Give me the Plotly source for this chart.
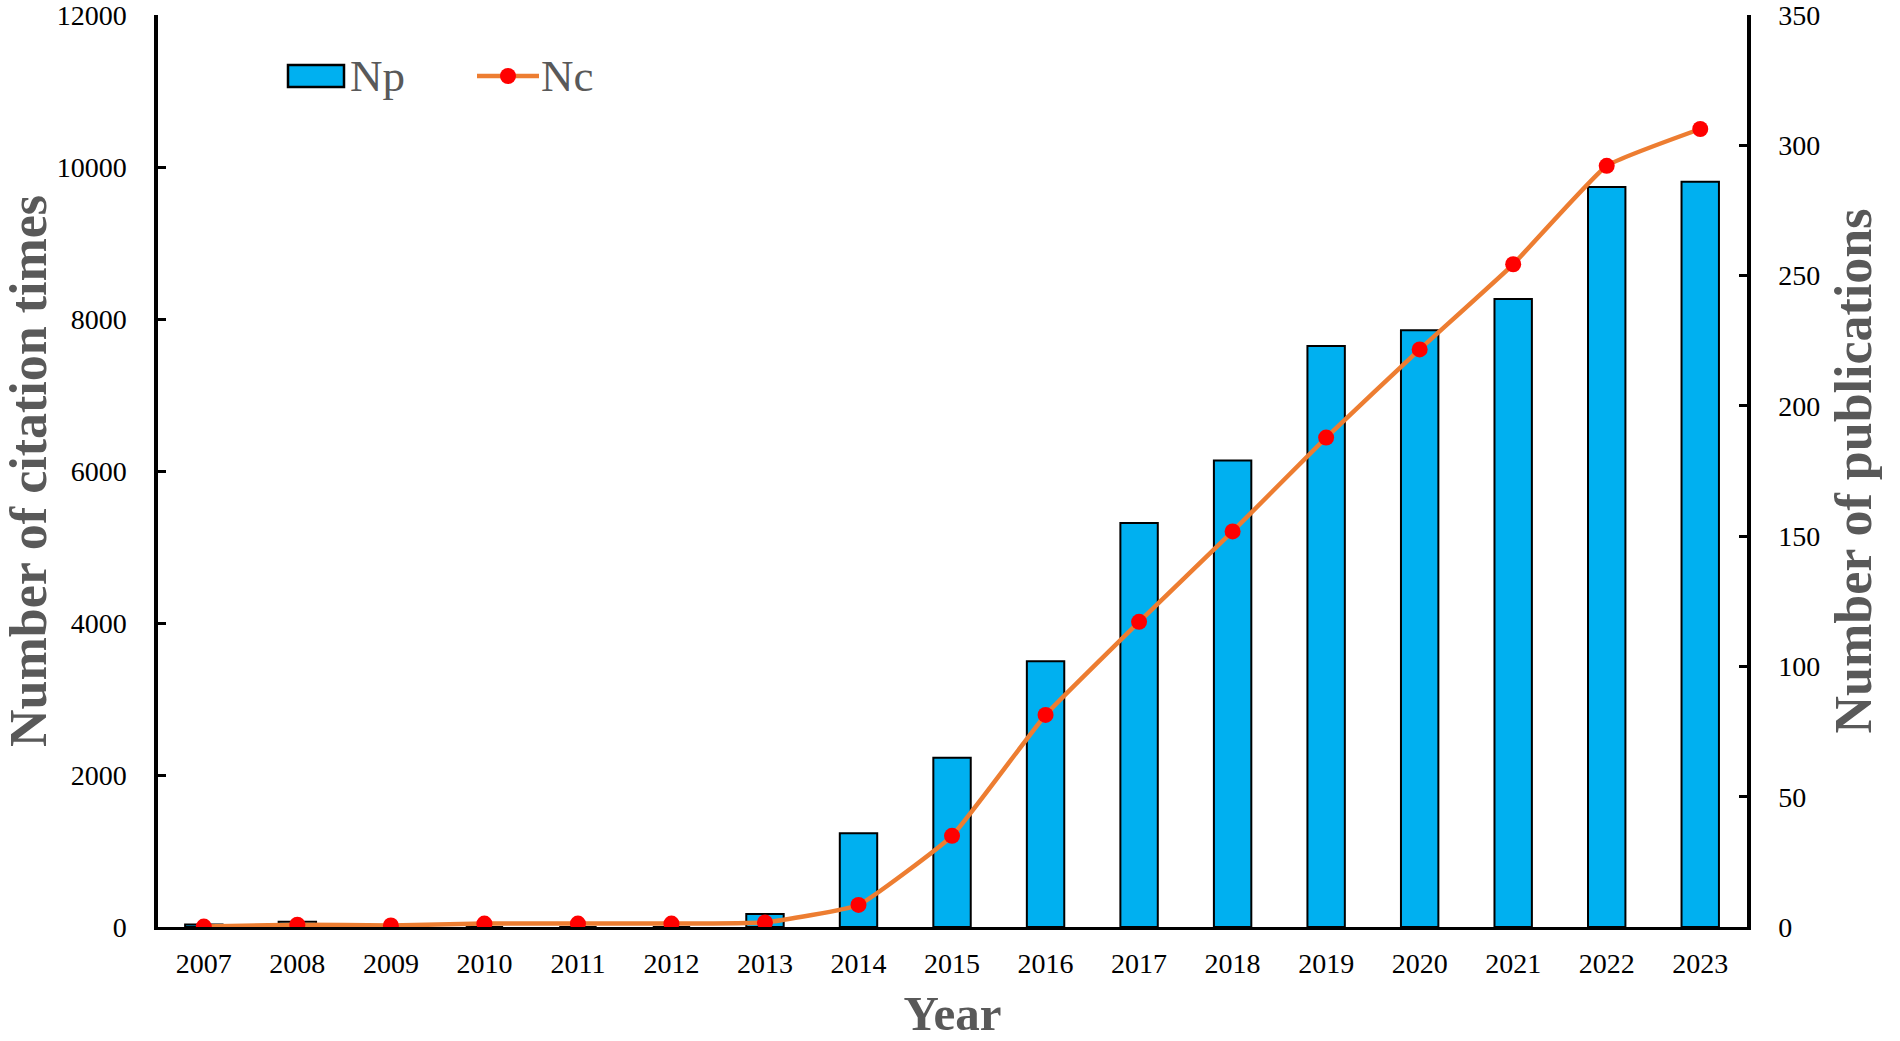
import plotly.graph_objects as go

years = ["2007", "2008", "2009", "2010", "2011", "2012", "2013", "2014", "2015",
         "2016", "2017", "2018", "2019", "2020", "2021", "2022", "2023"]
np_publications = [1, 2, 0, 0, 0, 0, 5, 36, 65, 102, 155, 179, 223, 229, 241, 284, 286]
nc_citations = [5, 30, 20, 45, 45, 45, 60, 290, 1200, 2790, 4015, 5205, 6440, 7600, 8720, 10015, 10500]
left_ticks = [0, 2000, 4000, 6000, 8000, 10000, 12000]
right_ticks = [0, 50, 100, 150, 200, 250, 300, 350]

FONT = "Liberation Serif"
GRAY = "#595959"

W, H = 1900, 1041
PL, PR, PT, PB = 158, 1747, 15, 927  # plot area in screen px


def px_x(sx):
    return (sx - PL) / (PR - PL)


def px_y(sy):
    return (PB - sy) / (PB - PT)


fig = go.Figure()
fig.add_trace(go.Bar(
    x=years, y=np_publications, name="Np", width=0.4,
    marker=dict(color="#00B0F0", line=dict(color="black", width=2)),
    yaxis="y", showlegend=False,
))
fig.add_trace(go.Scatter(
    x=years, y=nc_citations, name="Nc", mode="lines+markers",
    line=dict(color="#ED7D31", width=4.5, shape="spline", smoothing=0.35),
    marker=dict(color="#FF0000", size=16),
    yaxis="y2", showlegend=False,
))

# manual legend
shapes = [
    dict(type="rect", xref="paper", yref="paper",
         x0=px_x(288), x1=px_x(344), y0=px_y(87), y1=px_y(65),
         fillcolor="#00B0F0", line=dict(color="black", width=2.5)),
    dict(type="line", xref="paper", yref="paper",
         x0=px_x(477), x1=px_x(539), y0=px_y(76), y1=px_y(76),
         line=dict(color="#ED7D31", width=4.5)),
    dict(type="circle", xref="paper", yref="paper",
         xsizemode="pixel", ysizemode="pixel",
         xanchor=px_x(508), yanchor=px_y(76),
         x0=-8, x1=8, y0=-8, y1=8,
         fillcolor="#FF0000", line=dict(width=0)),
]
annotations = [
    dict(text="Np", xref="paper", yref="paper", x=px_x(348), y=px_y(76),
         xanchor="left", yanchor="middle", showarrow=False,
         font=dict(family=FONT, size=45, color=GRAY)),
    dict(text="Nc", xref="paper", yref="paper", x=px_x(539), y=px_y(76),
         xanchor="left", yanchor="middle", showarrow=False,
         font=dict(family=FONT, size=45, color=GRAY)),
]

fig.update_layout(
    width=W, height=H,
    margin=dict(l=PL, r=W - PR, t=PT, b=H - PB, pad=0, autoexpand=False),
    paper_bgcolor="white", plot_bgcolor="white",
    font=dict(family=FONT, size=28, color="black"),
    shapes=shapes, annotations=annotations,
    xaxis=dict(
        type="category", range=[-0.49, 16.5], automargin=False,
        showline=True, linecolor="black", linewidth=3,
        ticks="", showgrid=False, zeroline=False,
        tickfont=dict(family=FONT, size=28, color="black"),
        ticklabelstandoff=9,
        title=dict(text="<b>Year</b>", standoff=32,
                   font=dict(family=FONT, size=49, color=GRAY)),
    ),
    yaxis=dict(
        side="right", range=[0, 350], tickvals=right_ticks, automargin=False,
        showline=True, linecolor="black", linewidth=3.5,
        ticks="inside", ticklen=8, tickwidth=3, tickcolor="black",
        showgrid=False, zeroline=False, ticklabeloverflow="allow",
        tickfont=dict(family=FONT, size=28, color="black"),
        ticklabelstandoff=22,
        title=dict(text="<b>Number of publications</b>", standoff=16,
                   font=dict(family=FONT, size=52, color=GRAY)),
    ),
    yaxis2=dict(
        overlaying="y", side="left", range=[0, 12000], tickvals=left_ticks,
        ticktext=[str(v) for v in left_ticks], automargin=False,
        showline=True, linecolor="black", linewidth=3.5,
        ticks="inside", ticklen=8, tickwidth=3, tickcolor="black",
        showgrid=False, zeroline=False, ticklabeloverflow="allow",
        tickfont=dict(family=FONT, size=28, color="black"),
        ticklabelstandoff=22,
        title=dict(text="<b>Number of citation times</b>", standoff=34,
                   font=dict(family=FONT, size=52, color=GRAY)),
    ),
)

fig.write_html("out.html", config={"displayModeBar": False},
               post_script="document.body.style.margin='0px';")
